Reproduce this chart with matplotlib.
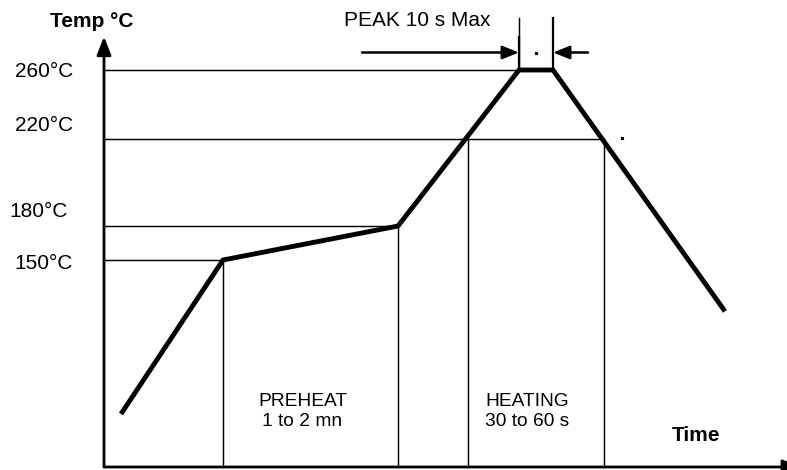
import numpy as np
import matplotlib
matplotlib.use("Agg")
import matplotlib.pyplot as plt

plt.rcParams['font.family'] = ['Liberation Sans', 'DejaVu Sans']

# reflow profile (schematic): time in arbitrary units, temperature in degC
profile_time = [17, 119, 294, 415, 449, 621]
profile_temp = [57, 150, 180, 260, 260, 119]

# reference temperatures drawn as horizontal guide lines, and where each line stops
level_temp = [150, 180, 220, 260]
level_end = [119, 294, 500, 415]
level_labels = ['150°C', '180°C', '220°C', '260°C']

# zone boundaries (vertical guide lines) and the temperature they rise to
zone_time = [119, 294, 364, 500]
zone_top = [150, 180, 220, 220]

peak_start, peak_end = 415, 449

# the temperature axis is not to scale: piecewise mapping temp -> height (px)
knot_t = [20, 25, 150, 180, 220, 260, 300]
knot_h = [-5, 3, 210, 244, 331, 400, 470]


def fwd(t):
    return np.interp(t, knot_t, knot_h)


def inv(h):
    return np.interp(h, knot_h, knot_t)


fig = plt.figure(figsize=(7.87, 4.70), dpi=100)
ax = fig.add_axes([0, 0, 1, 1])
ax.set_yscale('function', functions=(fwd, inv))
ax.set_xlim(-104, 683)
ax.set_ylim(float(inv(0)), float(inv(470)))
ax.axis('off')

base = 25
thin = 1.05

# horizontal guide lines
for t, end in zip(level_temp, level_end):
    ax.plot([0, end], [t, t], color='black', lw=thin)

# vertical zone lines
for x, top in zip(zone_time, zone_top):
    ax.plot([x, x], [base, top], color='black', lw=thin)

# peak markers
ax.plot([peak_start, peak_start], [260, 290], color='black', lw=thin)
ax.plot([peak_end, peak_end], [260, 290], color='black', lw=1.6)
ax.plot([peak_start, peak_start], [260, 279], color='black', lw=1.6)

# the profile itself
ax.plot(profile_time, profile_temp, color='black', lw=3.5,
        solid_capstyle='butt', solid_joinstyle='miter')

# axes with arrow heads
arrow = dict(arrowstyle='-|>,head_length=0.55,head_width=0.22', color='black',
             lw=2.0, shrinkA=0, shrinkB=0, mutation_scale=20)
ax.annotate('', xy=(0, 279), xytext=(0, base), arrowprops=arrow)
ax.annotate('', xy=(697, base), xytext=(0, base), arrowprops=arrow,
            annotation_clip=False)

# peak duration arrows
parrow = dict(arrowstyle='-|>,head_length=0.5,head_width=0.2', color='black',
              lw=1.8, shrinkA=0, shrinkB=0, mutation_scale=20)
ax.annotate('', xy=(peak_start, 270), xytext=(258, 270), arrowprops=parrow)
ax.annotate('', xy=(peak_end, 270), xytext=(484, 270), arrowprops=parrow)
ax.plot([432, 518], [270, 220.5], 's', color='black', ms=1.3)

# labels
label_pos = [148, 186.5, 228, 259]
label_x = [-31, -36, -31, -31]
for lab, x, y in zip(level_labels, label_x, label_pos):
    ax.text(x, y, lab, ha='right', va='center', fontsize=15)

ax.text(-12, 287.5, 'Temp °C', ha='center', va='center', fontsize=15,
        fontweight='bold')
ax.text(313, 288, 'PEAK 10 s Max', ha='center', va='center', fontsize=15)
ax.text(592, 44, 'Time', ha='center', va='center', fontsize=15,
        fontweight='bold')
ax.text(198.5, 58.5, 'PREHEAT\n1 to 2 mn', ha='center', va='center',
        fontsize=13.8, linespacing=1.3)
ax.text(423, 58.5, 'HEATING\n30 to 60 s', ha='center', va='center',
        fontsize=13.8, linespacing=1.3)

fig.savefig('out.png', dpi=100)
